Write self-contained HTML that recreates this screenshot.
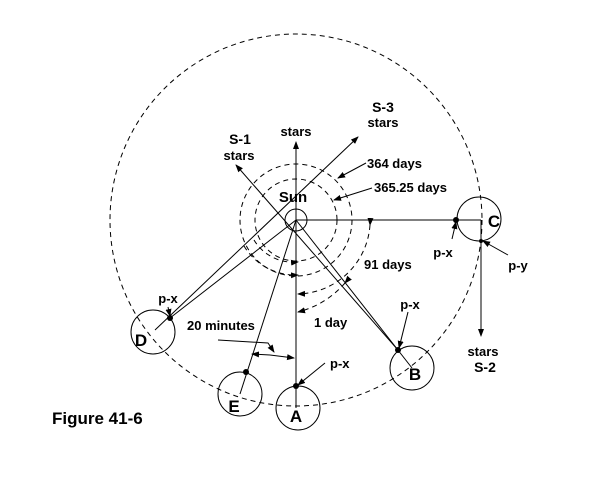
<!DOCTYPE html>
<html><head><style>
body{margin:0;background:#fff}
svg{display:block}
text{font-family:"Liberation Sans",Arial,sans-serif;font-weight:bold;font-size:13px;fill:#000}
.big{font-size:17px}
</style></head><body>
<svg width="611" height="477" viewBox="0 0 611 477">
<defs><marker id="a" markerWidth="8" markerHeight="8" refX="7" refY="4" orient="auto" markerUnits="userSpaceOnUse"><path d="M0,1 L8,4 L0,7 z" fill="#000"/></marker></defs>
<g fill="none" stroke="#000" stroke-width="1">
<circle cx="296" cy="220" r="186" stroke-dasharray="5,4"/>
<circle cx="296" cy="220" r="41" stroke-dasharray="5,4"/>
<circle cx="296" cy="220" r="56" stroke-dasharray="5,4"/>
<path d="M370,225 A74,74 0 0 1 298,294" stroke-dasharray="5,4" marker-start="url(#a)" marker-end="url(#a)"/>
<path d="M345,283 A92,92 0 0 1 298,312" stroke-dasharray="5,4" marker-start="url(#a)" marker-end="url(#a)"/>
<path d="M254,240 A46,46 0 0 0 298,262" stroke-dasharray="5,4" marker-end="url(#a)"/>
<path d="M244,246 A60,60 0 0 0 298,275" stroke-dasharray="5,4" marker-end="url(#a)"/>
<circle cx="296" cy="220" r="11"/>
<circle cx="298" cy="408" r="22"/>
<circle cx="240" cy="394" r="22"/>
<circle cx="153" cy="332" r="22"/>
<circle cx="412" cy="368" r="22"/>
<circle cx="479" cy="219" r="22"/>
<line x1="296" y1="220" x2="296" y2="142" marker-end="url(#a)"/>
<line x1="296" y1="220" x2="296" y2="408"/>
<line x1="296" y1="220" x2="481" y2="220"/>
<line x1="481" y1="220" x2="481" y2="336" marker-end="url(#a)"/>
<line x1="398" y1="350" x2="236" y2="165" marker-end="url(#a)"/>
<line x1="296" y1="220" x2="412" y2="368"/>
<line x1="155" y1="330" x2="358" y2="137" marker-end="url(#a)"/>
<line x1="296" y1="220" x2="170" y2="318"/>
<line x1="296" y1="220" x2="240" y2="394"/>
<line x1="168" y1="307" x2="170" y2="316" marker-end="url(#a)"/>
<line x1="325" y1="363" x2="298" y2="385" marker-end="url(#a)"/>
<line x1="408" y1="312" x2="399" y2="348" marker-end="url(#a)"/>
<line x1="452" y1="239" x2="456" y2="222" marker-end="url(#a)"/>
<line x1="508" y1="255" x2="483" y2="241" marker-end="url(#a)"/>
<line x1="366" y1="163" x2="338" y2="178" marker-end="url(#a)"/>
<line x1="372" y1="188" x2="334" y2="200" marker-end="url(#a)"/>
<polyline points="218,340 268,343 274,352" marker-end="url(#a)"/>
<line x1="270" y1="355" x2="252" y2="354" marker-end="url(#a)"/>
<line x1="270" y1="355" x2="294" y2="358" marker-end="url(#a)"/>
</g>
<g fill="#000">
<circle cx="296" cy="386" r="3"/><circle cx="246" cy="372" r="3"/><circle cx="170" cy="318" r="3"/>
<circle cx="398" cy="350" r="3"/><circle cx="456" cy="220" r="3"/><circle cx="481" cy="241" r="2"/>
</g>
<text x="296" y="136" text-anchor="middle">stars</text>
<text x="240" y="144" text-anchor="middle" style="font-size:14px">S-1</text>
<text x="239" y="160" text-anchor="middle">stars</text>
<text x="383" y="112" text-anchor="middle" style="font-size:14px">S-3</text>
<text x="383" y="127" text-anchor="middle">stars</text>
<text x="367" y="168">364 days</text>
<text x="374" y="192">365.25 days</text>
<text x="293" y="202" text-anchor="middle" style="font-size:15px">Sun</text>
<text x="364" y="269">91 days</text>
<text x="314" y="327">1 day</text>
<text x="187" y="330">20 minutes</text>
<text x="168" y="303" text-anchor="middle">p-x</text>
<text x="330" y="368">p-x</text>
<text x="410" y="309" text-anchor="middle">p-x</text>
<text x="443" y="257" text-anchor="middle">p-x</text>
<text x="518" y="270" text-anchor="middle">p-y</text>
<text x="483" y="356" text-anchor="middle">stars</text>
<text x="485" y="372" text-anchor="middle" style="font-size:14px">S-2</text>
<text class="big" x="494" y="227" text-anchor="middle">C</text>
<text class="big" x="415" y="380" text-anchor="middle">B</text>
<text class="big" x="296" y="422" text-anchor="middle">A</text>
<text class="big" x="234" y="412" text-anchor="middle">E</text>
<text class="big" x="141" y="346" text-anchor="middle">D</text>
<text x="52" y="424" style="font-size:17px">Figure 41-6</text>
</svg>
</body></html>
